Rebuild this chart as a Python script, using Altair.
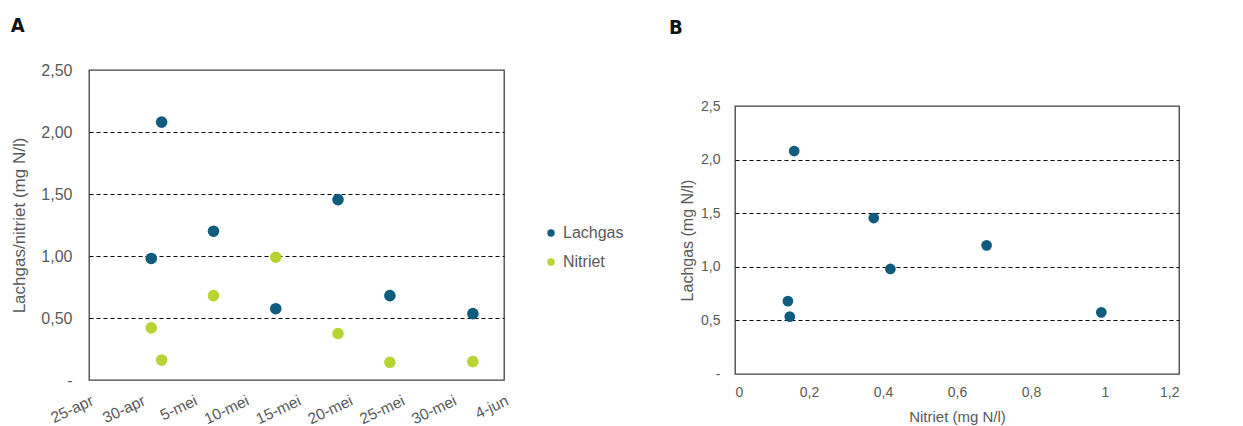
import altair as alt
import pandas as pd

# ---- data ----
dates = ["2021-05-01", "2021-05-02", "2021-05-07", "2021-05-13",
         "2021-05-19", "2021-05-24", "2021-06-01"]
lachgas = [0.98, 2.08, 1.20, 0.575, 1.455, 0.68, 0.535]
nitriet = [0.42, 0.16, 0.68, 0.99, 0.375, 0.143, 0.148]
series_names = ["Lachgas", "Nitriet"]
series_colors = ["#0F5C7F", "#B6D433"]

y_ticks_a = [0, 0.5, 1.0, 1.5, 2.0, 2.5]
x_ticks_b = [0, 0.2, 0.4, 0.6, 0.8, 1.0, 1.2]
tick_days = [(4, 25), (4, 30), (5, 5), (5, 10), (5, 15), (5, 20), (5, 25), (5, 30), (6, 4)]

long_df = pd.DataFrame({
    "datum": dates * 2,
    "waarde": lachgas + nitriet,
    "reeks": [series_names[0]] * len(dates) + [series_names[1]] * len(dates),
})
scatter_df = pd.DataFrame({"nitriet": nitriet, "lachgas": lachgas})

FONT = "Liberation Sans"
GREY = "#595959"
TITLE_FONT = "DejaVu Sans Condensed"

grid_cond = {"condition": {"test": "datum.value <= 0.001 || datum.value >= 2.499", "value": 0}, "value": 1}

month_expr = ("utcdate(datum.value) + '-' + (utcmonth(datum.value) == 3 ? 'apr' : "
              "(utcmonth(datum.value) == 4 ? 'mei' : 'jun'))")

panel_a = alt.Chart(long_df).mark_circle(size=135, opacity=1).encode(
    x=alt.X("datum:T",
            scale=alt.Scale(type="utc",
                            domain=[alt.DateTime(year=2021, month=4, date=25, utc=True),
                                    alt.DateTime(year=2021, month=6, date=4, utc=True)]),
            axis=alt.Axis(values=[alt.DateTime(year=2021, month=m, date=d, utc=True) for m, d in tick_days],
                          labelExpr=month_expr, labelAngle=335, labelAlign="right",
                          labelBaseline="top", title=None, grid=False,
                          domain=False, ticks=False, labelPadding=13,
                          labelFontSize=15.5, labelOverlap=False)),
    y=alt.Y("waarde:Q",
            scale=alt.Scale(domain=[0, 2.5], nice=False),
            axis=alt.Axis(values=y_ticks_a,
                          labelExpr="datum.value == 0 ? '-   ' : replace(format(datum.value, '.2f'), '.', ',')",
                          title="Lachgas/nitriet (mg N/l)", grid=True, gridColor="#000000",
                          gridDash=[4, 3], gridWidth=1, gridOpacity=grid_cond,
                          domain=False, ticks=False, labelPadding=17, titlePadding=12,
                          labelFontSize=16, titleFontSize=17)),
    color=alt.Color("reeks:N",
                    scale=alt.Scale(domain=series_names, range=series_colors),
                    legend=alt.Legend(title=None, orient="none", legendX=454, legendY=155,
                                      symbolType="circle", symbolSize=55, rowPadding=13,
                                      labelFontSize=16, labelColor=GREY, labelFont=FONT,
                                      symbolStrokeWidth=0, labelOffset=4)),
).properties(
    width=415, height=310,
    title=alt.TitleParams("A", anchor="start", frame="bounds", fontSize=20,
                          font=TITLE_FONT, fontWeight="bold", color="#111111",
                          offset=26),
)

spacer_b = alt.Chart(pd.DataFrame({"v": [0]})).mark_point(opacity=0).properties(
    width=444, height=27,
    view=alt.ViewConfig(stroke="transparent"),
    title=alt.TitleParams("B", anchor="start", frame="group", fontSize=20, dx=-66,
                          font=TITLE_FONT, fontWeight="bold", color="#111111",
                          offset=32),
)

panel_b = alt.Chart(scatter_df).mark_circle(size=115, opacity=1, color=series_colors[0]).encode(
    x=alt.X("nitriet:Q",
            scale=alt.Scale(domain=[0, 1.2], nice=False),
            axis=alt.Axis(values=x_ticks_b,
                          labelExpr="replace(format(datum.value, '.1~f'), '.', ',')",
                          title="Nitriet (mg N/l)", grid=False, domain=False, ticks=False,
                          labelPadding=11, titlePadding=10,
                          labelFontSize=14, titleFontSize=15)),
    y=alt.Y("lachgas:Q",
            scale=alt.Scale(domain=[0, 2.5], nice=False),
            axis=alt.Axis(values=y_ticks_a,
                          labelExpr="datum.value == 0 ? '- ' : replace(format(datum.value, '.1f'), '.', ',')",
                          title="Lachgas (mg N/l)", grid=True, gridColor="#000000",
                          gridDash=[4, 3], gridWidth=1, gridOpacity=grid_cond,
                          domain=False, ticks=False, labelPadding=15, titlePadding=5,
                          labelFontSize=14, titleFontSize=16)),
).properties(width=444, height=268)

right = alt.vconcat(spacer_b, panel_b, spacing=0)

chart = alt.hconcat(panel_a, right, spacing=156).properties(
    padding={"left": 10, "top": 15, "right": 5, "bottom": 0},
    background="#ffffff",
).configure_view(
    stroke="#404040", strokeWidth=1.3,
).configure_axis(
    labelFont=FONT, titleFont=FONT,
    labelColor=GREY, titleColor=GREY, titleFontWeight="normal",
)

chart.save("out.html", embed_options={"renderer": "svg", "actions": False})
